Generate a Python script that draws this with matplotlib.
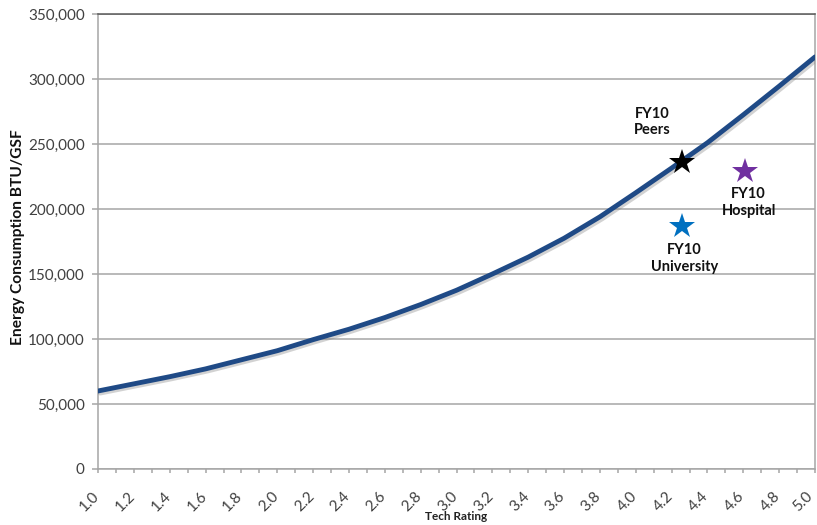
import matplotlib
matplotlib.use("Agg")
import matplotlib.pyplot as plt
import matplotlib.patheffects as pe
import matplotlib.transforms as mtransforms
from matplotlib.ticker import FuncFormatter, MultipleLocator, NullFormatter

plt.rcParams['font.family'] = ['Lato', 'DejaVu Sans']

# Energy consumption curve vs. tech rating
tech_rating = [1.0, 1.2, 1.4, 1.6, 1.8, 2.0, 2.2, 2.4, 2.6, 2.8, 3.0,
               3.2, 3.4, 3.6, 3.8, 4.0, 4.2, 4.4, 4.6, 4.8, 5.0]
energy_btu = [60000, 65500, 71000, 77000, 84000, 91000, 99500, 107500,
              116500, 126500, 137500, 150000, 163000, 177500, 194000,
              212500, 231500, 251000, 272500, 294500, 317000]

# x-axis tick labels
x_ticks = [1.0, 1.2, 1.4, 1.6, 1.8, 2.0, 2.2, 2.4, 2.6, 2.8, 3.0,
           3.2, 3.4, 3.6, 3.8, 4.0, 4.2, 4.4, 4.6, 4.8, 5.0]
x_tick_labels = [f"{v:.1f}" for v in x_ticks]

# FY10 benchmark points
point_names = ["FY10\nPeers", "FY10\nHospital", "FY10\nUniversity"]
point_x = [4.26, 4.61, 4.26]
point_y = [236500, 229000, 187000]
point_colors = ["#000000", "#7030A0", "#0070C0"]
label_x = [4.09, 4.63, 4.27]
label_y = [267000, 205000, 162000]

fig = plt.figure(figsize=(8.17, 5.25), dpi=100)
ax = fig.add_axes([0.12, 0.1067, 0.8776, 0.8666])

ax.plot(tech_rating, energy_btu, color="#1F4A86", lw=3.5, solid_capstyle="round",
        path_effects=[pe.SimpleLineShadow(offset=(1.5, -1.5), shadow_color="#808080", alpha=0.35),
                      pe.Normal()], zorder=3)

for px, py, c in zip(point_x, point_y, point_colors):
    ax.plot(px, py, marker="*", markersize=19, color=c, markeredgewidth=0, zorder=4)

for name, lx, ly in zip(point_names, label_x, label_y):
    ax.text(lx, ly, name, ha="center", va="center", fontsize=10.5,
            fontweight="bold", linespacing=1.25, color="#111111", zorder=5)

ax.set_xlim(1.0, 5.0)
ax.set_ylim(0, 350000)
ax.set_xticks(x_ticks)
ax.xaxis.set_minor_locator(MultipleLocator(0.1))
ax.xaxis.set_major_formatter(NullFormatter())
ax.yaxis.set_major_locator(MultipleLocator(50000))
ax.yaxis.set_major_formatter(FuncFormatter(lambda v, p: f"{int(v):,}"))

ax.grid(axis="y", color="#A6A6A6", lw=1.1)
ax.set_axisbelow(True)
for side in ["left", "bottom", "right"]:
    ax.spines[side].set_color("#A6A6A6")
    ax.spines[side].set_linewidth(1.1)
ax.spines["top"].set_color("#595959")
ax.spines["top"].set_linewidth(1.1)

ax.tick_params(axis="x", which="both", length=3, color="#A6A6A6", width=1.1)
ax.tick_params(axis="y", length=4, color="#A6A6A6", width=1.1,
               labelsize=11, labelcolor="#404040", pad=5.5)

# rotated x tick labels, drawn below each tick; the last one is kept inside the figure
for i, (tv, tl) in enumerate(zip(x_ticks, x_tick_labels)):
    dx = -1 if i < len(x_ticks) - 1 else -5
    offset = mtransforms.ScaledTranslation(dx / 100, -25 / 100, fig.dpi_scale_trans)
    ax.text(tv, 0, tl, transform=ax.get_xaxis_transform() + offset,
            rotation=45, rotation_mode="anchor", ha="right", va="center",
            fontsize=11, color="#404040", clip_on=False)

ax.set_ylabel("Energy Consumption BTU/GSF", fontsize=11.2, fontweight="bold",
              color="#111111")
ax.yaxis.set_label_coords(-0.102, 0.509)
ax.set_xlabel("Tech Rating", fontsize=8.5, fontweight="bold", color="#222222")
ax.xaxis.set_label_coords(0.499, -0.1055)
ax.xaxis.label.set_va("center")

fig.savefig("out.png", dpi=100)
